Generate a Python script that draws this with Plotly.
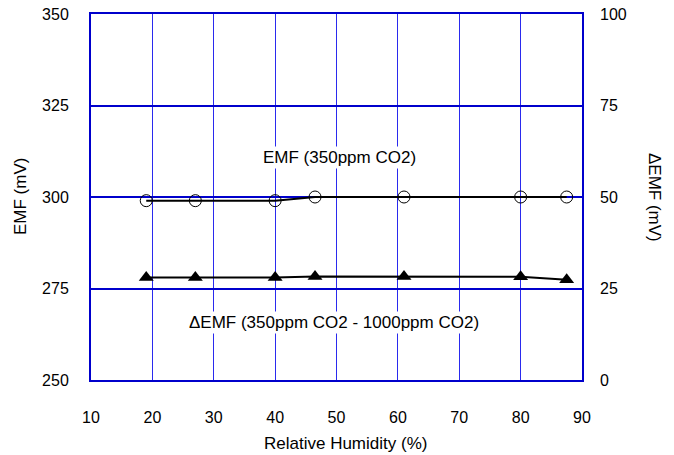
import plotly.graph_objects as go

rh_emf = [19, 27, 40, 46.5, 61, 80, 87.5]
emf = [299, 299, 299, 300, 300, 300, 300]
rh_demf = [19, 27, 40, 46.5, 61, 80, 87.5]
demf = [28, 28, 28, 28.3, 28.3, 28.2, 27.4]

BLUE = "#0000cc"
FONT = dict(family="Liberation Sans, Arial, sans-serif", size=16, color="black")
FONT_L = dict(family="Liberation Sans, Arial, sans-serif", size=17, color="black")

fig = go.Figure()
fig.add_trace(go.Scatter(x=rh_emf, y=emf, mode="lines+markers",
                         line=dict(color="black", width=2),
                         marker=dict(symbol="circle-open", size=12, color="black", line=dict(width=1)),
                         yaxis="y"))
fig.add_trace(go.Scatter(x=rh_demf, y=demf, mode="lines+markers",
                         line=dict(color="black", width=2),
                         marker=dict(symbol="triangle-up", size=13, color="black"),
                         yaxis="y2"))

fig.update_layout(
    width=674, height=455,
    margin=dict(l=91, r=92, t=14, b=75),
    plot_bgcolor="white", paper_bgcolor="white",
    showlegend=False,
    font=FONT,
    xaxis=dict(range=[10, 90], dtick=10, tick0=10, showgrid=True, gridcolor="#2a2aee", gridwidth=1,
               showline=True, linecolor=BLUE, linewidth=2, mirror=True, zeroline=False,
               ticks="", ticklabelstandoff=22, automargin=False, ticklabeloverflow="allow"),
    yaxis=dict(range=[250, 350], dtick=25, tick0=250, showgrid=True, gridcolor=BLUE, gridwidth=2,
               showline=True, linecolor=BLUE, linewidth=2, mirror=True, zeroline=False,
               ticks="", ticklabelstandoff=17, automargin=False, ticklabeloverflow="allow"),
    yaxis2=dict(range=[0, 100], dtick=25, tick0=0, overlaying="y", side="right",
                showgrid=False, zeroline=False, showline=False, ticks="", ticklabelstandoff=17,
                automargin=False, ticklabeloverflow="allow"),
    annotations=[
        dict(x=50.5, y=310.7, xref="x", yref="y", text="EMF (350ppm CO2)", showarrow=False,
             bgcolor="white", font=FONT_L),
        dict(x=49.6, y=265.6, xref="x", yref="y", text="ΔEMF (350ppm CO2 - 1000ppm CO2)",
             showarrow=False, bgcolor="white", font=FONT_L),
        dict(x=0, y=0.5, xref="paper", yref="paper", text="EMF (mV)", showarrow=False,
             textangle=-90, xanchor="center", yanchor="middle", xshift=-71, font=FONT_L),
        dict(x=1, y=0.5, xref="paper", yref="paper", text="ΔEMF (mV)", showarrow=False,
             textangle=90, xanchor="center", yanchor="middle", xshift=73, font=FONT_L),
        dict(x=0.5, y=0, xref="paper", yref="paper", text="Relative Humidity (%)", showarrow=False,
             xanchor="center", yanchor="middle", xshift=9, yshift=-63, font=FONT_L),
    ],
)

fig.write_html("out.html", config={"displayModeBar": False},
               post_script="document.body.style.margin='0';")
